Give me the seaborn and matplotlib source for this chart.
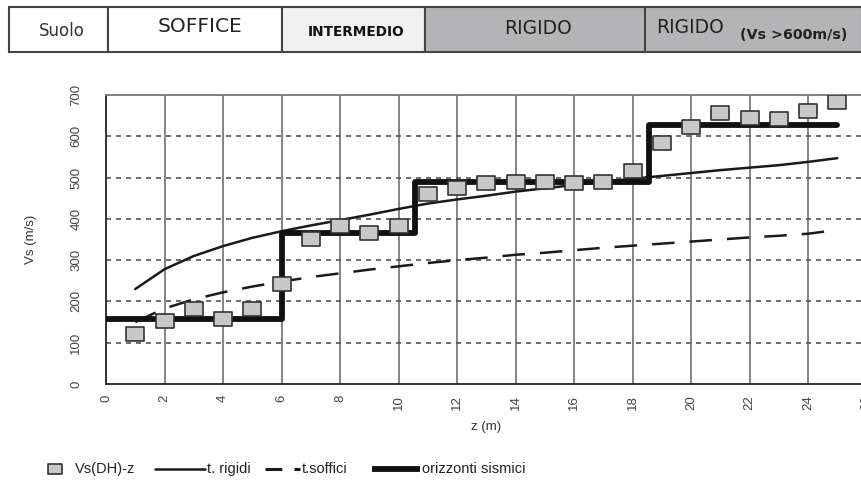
import numpy as np
import pandas as pd
import matplotlib
matplotlib.use("Agg")
import matplotlib.pyplot as plt
from matplotlib.patches import Rectangle
from matplotlib.lines import Line2D
from matplotlib.path import Path
import seaborn as sns

# Down-hole measurements Vs(DH)-z
z_dh = [1, 2, 3, 4, 5, 6, 7, 8, 9, 10, 11, 12, 13, 14, 15, 16, 17, 18, 19, 20, 21, 22, 23, 24, 25]
vs_dh = [122, 152, 181, 157, 181, 242, 351, 383, 366, 383, 460, 475, 487, 489, 489, 487, 489, 516,
         584, 622, 656, 644, 642, 661, 683]

# Reference trend for stiff soils (t. rigidi)
z_trend = [1, 2, 3, 4, 5, 6, 7, 8, 9, 10, 11, 12, 13, 14, 15, 16, 17, 18, 19, 20, 21, 22, 23, 24, 25]
vs_rigidi = [230, 278, 310, 334, 354, 370, 384, 397, 410, 424, 437, 447, 456, 466, 474, 482, 490,
             497, 504, 511, 518, 524, 530, 538, 547]
# Reference trend for soft soils (t.soffici)
vs_soffici = [150, 183, 205, 222, 236, 248, 259, 268, 277, 285, 293, 300, 306, 313, 318, 324, 330,
              335, 340, 345, 350, 355, 359, 364, 373]

# Seismic layers (orizzonti sismici)
z_layers = [0, 6, 10.55, 18.55, 25]
vs_layers = [158, 365, 490, 628, 628]

# Soil classes along the depth axis
soil_labels = ["Suolo", "SOFFICE", "INTERMEDIO", "RIGIDO", "RIGIDO"]
legend_labels = ["Vs(DH)-z", "t. rigidi", "t.soffici", "orizzonti sismici"]

sns.set_style("white")
plt.rcParams["font.family"] = ["Liberation Sans", "DejaVu Sans"]

W, H = 861, 486
fig = plt.figure(figsize=(W / 100, H / 100), dpi=100)

x0, y0 = 106, 384
px_per_z = 29.25
ax_right = x0 + 26 * px_per_z
ax_top = 95
ax = fig.add_axes([x0 / W, 1 - y0 / H, (ax_right - x0) / W, (y0 - ax_top) / H])

# Grid
for zg in range(2, 26, 2):
    ax.axvline(zg, color="#707070", lw=1.2, zorder=0)
for vg in range(100, 700, 100):
    ax.axhline(vg, color="#555555", lw=1.2, ls=(0, (3, 3)), zorder=0)

df_trend = pd.DataFrame({"z": z_trend, "rigidi": vs_rigidi, "soffici": vs_soffici})
sns.lineplot(data=df_trend, x="z", y="rigidi", ax=ax, color="#1a1a1a", lw=1.8,
             estimator=None, zorder=3)
sns.lineplot(data=df_trend, x="z", y="soffici", ax=ax, color="#1a1a1a", lw=1.8,
             estimator=None, zorder=3, dashes=False, linestyle=(0, (9, 6)))
df_layers = pd.DataFrame({"z": z_layers, "vs": vs_layers})
sns.lineplot(data=df_layers, x="z", y="vs", ax=ax, color="#111111", lw=4.2,
             estimator=None, drawstyle="steps-post", zorder=4)

rect_marker = Path([(-1, -0.78), (1, -0.78), (1, 0.78), (-1, 0.78), (-1, -0.78)],
                   [Path.MOVETO, Path.LINETO, Path.LINETO, Path.LINETO, Path.CLOSEPOLY])
df_dh = pd.DataFrame({"z": z_dh, "vs": vs_dh})
sns.scatterplot(data=df_dh, x="z", y="vs", ax=ax, marker=rect_marker, s=170,
                color="#c8c8c8", edgecolor="#333333", linewidth=1.2, zorder=5)

ax.set_xlim(0, 26)
ax.set_ylim(0, 700)
ax.set_xticks(range(0, 27, 2))
ax.set_yticks(range(0, 701, 100))
ax.tick_params(axis="both", direction="inout", length=8, width=1, color="#333333",
               labelsize=9.5, labelcolor="#444444")
ax.tick_params(axis="x", pad=4)
ax.tick_params(axis="y", pad=13)
for lab in ax.get_xticklabels():
    lab.set_rotation(90)
for lab in ax.get_yticklabels():
    lab.set_rotation(90)
    lab.set_va("center")
ax.set_xlabel("z (m)", fontsize=9.5, color="#333333", labelpad=8)
ax.set_ylabel("Vs (m/s)", fontsize=9.5, color="#333333", labelpad=24)
for side in ["left", "bottom"]:
    ax.spines[side].set_color("#222222")
    ax.spines[side].set_linewidth(1.3)
ax.spines["top"].set_color("#777777")
ax.spines["top"].set_linewidth(1.3)
ax.spines["right"].set_visible(False)

# Soil class header
edges = [9, 108, 282, 425, 645, 862]
fills = ["white", "white", "#f1f1f1", "#b4b4b6", "#b4b4b6"]
hy0, hy1 = 1 - 52 / H, 1 - 7 / H
for i in range(5):
    fig.add_artist(Rectangle((edges[i] / W, hy0), (edges[i + 1] - edges[i]) / W, hy1 - hy0,
                             transform=fig.transFigure, facecolor=fills[i],
                             edgecolor="#444444", lw=1.5))
hyc = (hy0 + hy1) / 2
hfont = ["DejaVu Sans"]
fig.text(62 / W, hyc - 0.004, soil_labels[0], ha="center", va="center", fontsize=12,
         color="#333333", family=hfont)
fig.text(200 / W, hyc + 0.006, soil_labels[1], ha="center", va="center", fontsize=14.5,
         color="#222222", family=hfont)
fig.text(356 / W, hyc - 0.006, soil_labels[2], ha="center", va="center", fontsize=9.8,
         fontweight="bold", color="#111111", family=hfont)
fig.text(538 / W, hyc + 0.002, soil_labels[3], ha="center", va="center", fontsize=13.5,
         color="#222222", family=hfont)
fig.text(656 / W, hyc + 0.004, soil_labels[4], ha="left", va="center", fontsize=13.5,
         color="#222222", family=hfont)
fig.text(740 / W, hyc - 0.012, "(Vs >600m/s)", ha="left", va="center", fontsize=10.3,
         fontweight="bold", color="#222222", family=hfont)

# Legend row
ly = 1 - 469 / H
fig.add_artist(Line2D([55 / W], [ly], marker=rect_marker, ls="none", markersize=10,
                      markerfacecolor="#c8c8c8", markeredgecolor="#333333",
                      markeredgewidth=1.2, transform=fig.transFigure))
fig.add_artist(Line2D([155 / W, 205 / W], [ly, ly], color="#1a1a1a", lw=1.8,
                      transform=fig.transFigure))
fig.add_artist(Line2D([265 / W, 300 / W], [ly, ly], color="#1a1a1a", lw=2.2,
                      linestyle=(0, (5.5, 4)), transform=fig.transFigure))
fig.add_artist(Line2D([372 / W, 420 / W], [ly, ly], color="#111111", lw=4.2,
                      solid_capstyle="butt", transform=fig.transFigure))
for xt, txt in zip([75, 207, 302, 422], legend_labels):
    fig.text(xt / W, ly, txt, ha="left", va="center", fontsize=10.5, color="#222222")

fig.savefig("out.png", dpi=100)
